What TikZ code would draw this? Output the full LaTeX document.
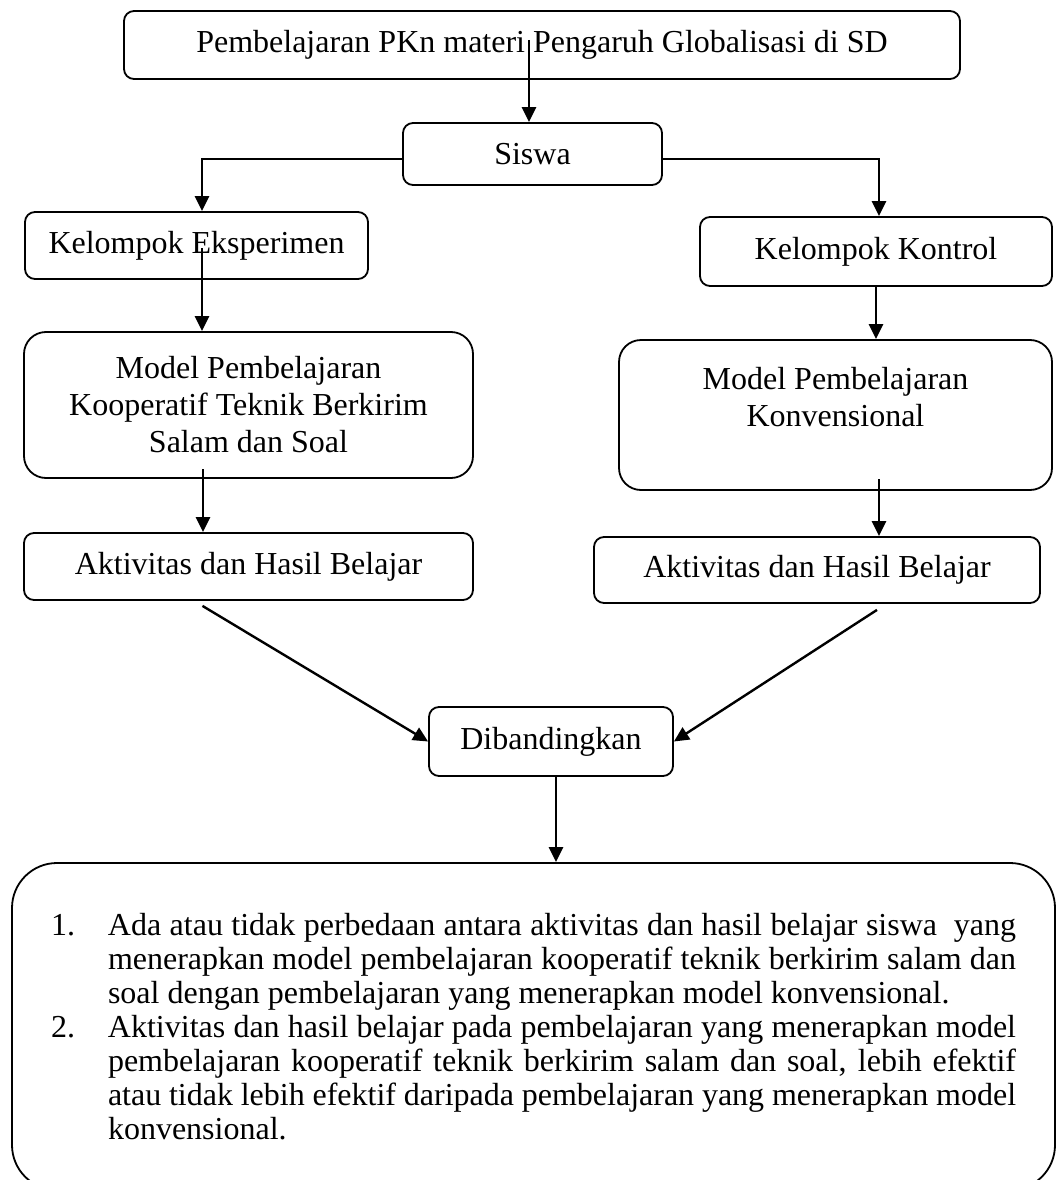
\documentclass[tikz,border=0pt]{standalone}
\usepackage{fontspec}
\setmainfont{Liberation Serif}
\usetikzlibrary{arrows.meta,positioning,calc}
\newcommand{\penuh}[1]{\makebox[908pt][s]{#1}}
\newcommand{\nomor}[1]{\makebox[57pt][l]{#1}}

\begin{document}
\begin{tikzpicture}[x=1pt,y=-1pt,
  kotak/.style={draw,line width=1.8pt,rounded corners=10pt,align=center,inner sep=0pt,font=\fontsize{32}{37}\selectfont},
  panah/.style={line width=2.4pt,-{Triangle[length=15pt,width=14pt]}}]
\path[use as bounding box,fill=white](0,0)rectangle(1056,1180);
% kotak atas
\node[kotak,minimum width=836,minimum height=68](atas)at(542,45){Pembelajaran PKn materi Pengaruh Globalisasi di SD};
\node[kotak,minimum width=259,minimum height=62](siswa)at(532.5,154){Siswa};
\node[kotak,minimum width=343,minimum height=67](ke)at(196.5,245.5){Kelompok Eksperimen};
\node[kotak,minimum width=352,minimum height=69](kk)at(876,251.5){Kelompok Kontrol};
% model
\node[kotak,rounded corners=22pt,minimum width=449,minimum height=146](modelA)at(248.5,405)
  {Model Pembelajaran\\Kooperatif Teknik Berkirim\\Salam dan Soal};
\node[kotak,rounded corners=22pt,minimum width=433,minimum height=150](modelB)at(835.5,415)
  {Model Pembelajaran\\Konvensional\\~};
\node[kotak,minimum width=449,minimum height=67](aktA)at(248.5,566.5){Aktivitas dan Hasil Belajar};
\node[kotak,minimum width=446,minimum height=66](aktB)at(817,570){Aktivitas dan Hasil Belajar};
\node[kotak,minimum width=244,minimum height=69](banding)at(551,741.5){Dibandingkan};
% kesimpulan
\node[kotak,rounded corners=45pt,minimum width=1043,minimum height=327,align=left,
  font=\fontsize{32}{34}\selectfont](hasil)at(533.5,1026.5){%
\nomor{1.}\penuh{Ada atau tidak perbedaan antara aktivitas dan hasil belajar siswa\ \ yang}\\
\hspace*{57pt}\penuh{menerapkan model pembelajaran kooperatif teknik berkirim salam dan}\\
\hspace*{57pt}soal dengan pembelajaran yang menerapkan model konvensional.\\
\nomor{2.}\penuh{Aktivitas dan hasil belajar pada pembelajaran yang menerapkan model}\\
\hspace*{57pt}\penuh{pembelajaran kooperatif teknik berkirim salam dan soal, lebih efektif}\\
\hspace*{57pt}\penuh{atau tidak lebih efektif daripada pembelajaran yang menerapkan model}\\
\hspace*{57pt}konvensional.};
% panah
\coordinate(p1)at(529,40);
\coordinate(p2)at(202,248);
\coordinate(p3)at(203,469);
\coordinate(p4)at(879,479);
\draw[panah](p1)--(p1|-siswa.north);
\draw[panah]([yshift=-5pt]siswa.west)-|([xshift=5.5pt]ke.north);
\draw[panah]([yshift=-5pt]siswa.east)-|([xshift=3pt]kk.north);
\draw[panah](p2)--(p2|-modelA.north);
\draw[panah](kk.south)--(kk.south|-modelB.north);
\draw[panah](p3)--(p3|-aktA.north);
\draw[panah](p4)--(p4|-aktB.north);
\draw[panah]([xshift=-46pt,yshift=-5pt]aktA.south)--(banding.west);
\draw[panah]([xshift=60pt,yshift=-6pt]aktB.south)--(banding.east);
\draw[panah]([xshift=5pt]banding.south)--([xshift=5pt]banding.south|-hasil.north);
\end{tikzpicture}
\end{document}
